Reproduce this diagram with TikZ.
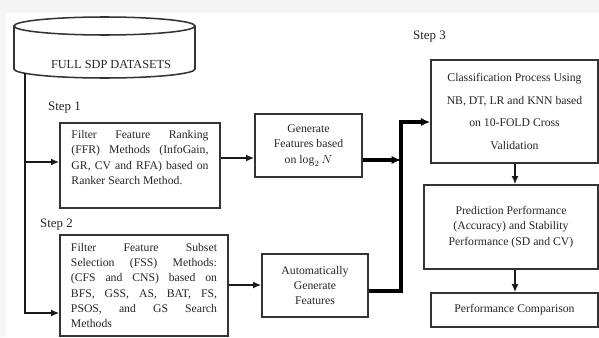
\documentclass[tikz,border=0pt]{standalone}
\usepackage{fontspec}
\setmainfont{Liberation Serif}
\usetikzlibrary{arrows.meta}

\tikzset{
  procbox/.style={draw=black!80, line width=1.3pt, fill=white, text=black!85,
    font=\fontsize{10}{13}\selectfont, inner xsep=0pt, inner ysep=2pt},
  cylline/.style={draw=black!80, line width=1.3pt},
  thinflow/.style={draw=black!90, line width=1.8pt, -{Latex[length=7pt,width=6pt]}},
  thickflow/.style={draw=black, line width=3pt, -{Latex[length=8pt,width=7pt]}},
  steplabel/.style={font=\fontsize{11}{13}\selectfont, text=black!85, anchor=west, inner sep=0pt},
}

\begin{document}
\begin{tikzpicture}[x=0.03cm, y=-0.03cm]
			%%%%% START %%%%%
			
			\useasboundingbox (0,0) rectangle (599,337);
			\fill[black!4] (0,0) rectangle (599,337);
			\fill[white] (6,13) rectangle (599,337);
			\clip (0,0) rectangle (599,337);
			
			% data store
			\fill[white] (14,26) -- (14,69) arc[start angle=180, end angle=360, x radius=2.715cm, y radius=0.27cm] -- (195,26) -- cycle;
			\draw[cylline] (14,26) -- (14,69) arc[start angle=180, end angle=360, x radius=2.715cm, y radius=0.27cm] -- (195,26);
			\draw[cylline, fill=white] (104.5,26) ellipse [x radius=2.715cm, y radius=0.27cm];
			\node[text=black!85, font=\fontsize{10.5}{12}\selectfont] (data) at (111,64) {FULL SDP DATASETS};
			\coordinate (trunk) at (25,73);
			
			% steps
			\node[steplabel] (step1) at (48,108) {Step 1};
			\node[steplabel] (step2) at (40,225) {Step 2};
			\node[steplabel] (step3) at (413,37) {Step 3};
			
			\node[procbox, text width=4.11cm, align=justify, minimum width=4.8cm, minimum height=2.55cm] (ffr) at (140,165.5)
				{Filter Feature Ranking\linebreak (FFR) Methods (InfoGain,\linebreak GR, CV and RFA) based on\linebreak Ranker Search Method.\par\vspace{13.6pt}};
			\node[procbox, text width=4.38cm, align=justify, minimum width=5.04cm, minimum height=3.03cm] (fss) at (144,285.5)
				{Filter Feature Subset\linebreak Selection (FSS) Methods:\linebreak (CFS and CNS) based on\linebreak BFS, GSS, AS, BAT, FS,\linebreak PSOS, and GS Search\linebreak Methods};
			
			\node[procbox, align=center, minimum width=3.21cm, minimum height=1.89cm] (gen) at (308.5,145.5)
				{Generate\\Features based\\on $\log_2 N$};
			\node[procbox, align=center, minimum width=3.18cm, minimum height=1.89cm] (auto) at (315,285.5)
				{Automatically\\Generate\\Features};
			
			\node[procbox, align=center, font=\fontsize{10}{19.5}\selectfont, minimum width=5.01cm, minimum height=3.09cm] (class) at (514.5,111.5)
				{Classification Process Using\\NB, DT, LR and KNN based\\on 10-FOLD Cross\\Validation};
			\node[procbox, align=center, minimum width=5.22cm, minimum height=2.52cm] (pred) at (511,227)
				{\vspace*{6pt}Prediction Performance\\(Accuracy) and Stability\\Performance (SD and CV)};
			\node[procbox, align=center, minimum width=5.01cm, minimum height=1.02cm] (comp) at (514.5,310)
				{Performance Comparison};
			
			% arrows
			\draw[thinflow] (trunk) |- (fss.west |- 0,313);
			\draw[thinflow] (trunk |- 0,162) -- (ffr.west |- 0,162);
			\draw[thinflow] (ffr.east |- 0,158) -- (gen.west |- 0,158);
			\draw[thinflow] (fss.east |- 0,285) -- (auto.west |- 0,285);
			
			\coordinate (merge) at (401,160);
			\draw[thickflow] (gen.east |- merge) -- (merge);
			\draw[thickflow] (auto.east |- 0,291) -| (merge |- 0,122) -- (class.west |- 0,122);
			
			\draw[thinflow] (class.south -| 515,0) -- (pred.north -| 515,0);
			\draw[thinflow] (pred.south -| 515,0) -- (comp.north -| 515,0);
			
			%%%%% END %%%%%
\end{tikzpicture}
\end{document}
